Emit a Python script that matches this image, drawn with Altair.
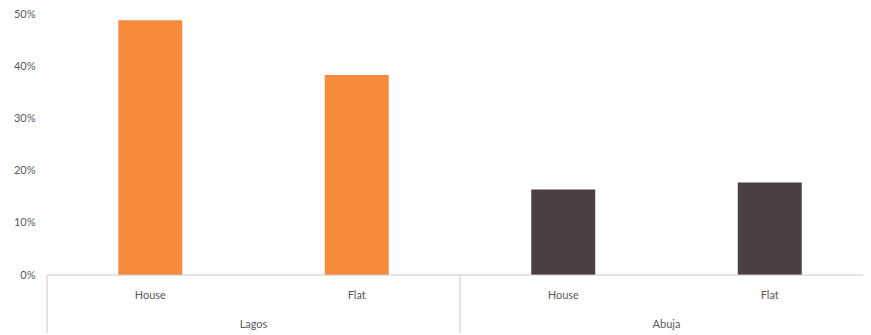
import altair as alt
import pandas as pd

cities = ["Lagos", "Lagos", "Abuja", "Abuja"]
types = ["House", "Flat", "House", "Flat"]
values = [0.488, 0.383, 0.164, 0.177]
colors_by_city = {"Lagos": "#F58B3B", "Abuja": "#4A3F45"}

df = pd.DataFrame({
    "city": cities,
    "type": types,
    "value": values,
})
df["key"] = df["city"] + "|" + df["type"]
order = list(df["key"])

W, H = 816, 261
XR = 826
FONT = "Lato"
TXT = "#595959"
LINE = "#C8C8C8"

def xscale():
    return alt.Scale(paddingInner=0, paddingOuter=0, range=[0, XR])

xenc = alt.X("key:N", sort=order, axis=None, scale=xscale())

base = alt.Chart(df)

bars = base.mark_bar(width=64).encode(
    x=xenc,
    y=alt.Y("value:Q", scale=alt.Scale(domain=[0, 0.5], nice=False),
            axis=alt.Axis(format=".0%", values=[0, 0.1, 0.2, 0.3, 0.4, 0.5],
                          domain=False, ticks=False, grid=False, title=None,
                          labelPadding=12, labelFont=FONT, labelFontSize=11,
                          labelColor=TXT)),
    color=alt.Color("city:N",
                    scale=alt.Scale(domain=list(colors_by_city.keys()),
                                    range=list(colors_by_city.values())),
                    legend=None),
)

baseline = base.mark_rule(color=LINE, strokeWidth=1).encode(
    x=alt.value(0), x2=alt.value(W), y=alt.value(H)
).transform_filter(alt.datum.key == order[0])

type_labels = base.mark_text(font=FONT, fontSize=11, color=TXT).encode(
    x=xenc, y=alt.value(H + 21), text="type:N"
)

house = base.transform_filter(alt.datum.type == "House")

city_labels = house.mark_text(font=FONT, fontSize=11, color=TXT).encode(
    x=alt.X("key:N", sort=order, axis=None, bandPosition=1, scale=xscale()),
    y=alt.value(H + 50), text="city:N"
)

separators = house.mark_rule(color=LINE, strokeWidth=1).encode(
    x=alt.X("key:N", sort=order, axis=None, bandPosition=0, scale=xscale()),
    y=alt.value(H), y2=alt.value(H + 70)
)

chart = alt.layer(bars, baseline, type_labels, city_labels, separators).properties(
    width=W, height=H,
    autosize=alt.AutoSizeParams(type="none"),
    padding={"left": 39, "top": 6, "right": 0, "bottom": 58},
).configure(background="white", view={"stroke": None})

chart.save("out.html", embed_options={"renderer": "svg", "actions": False})
